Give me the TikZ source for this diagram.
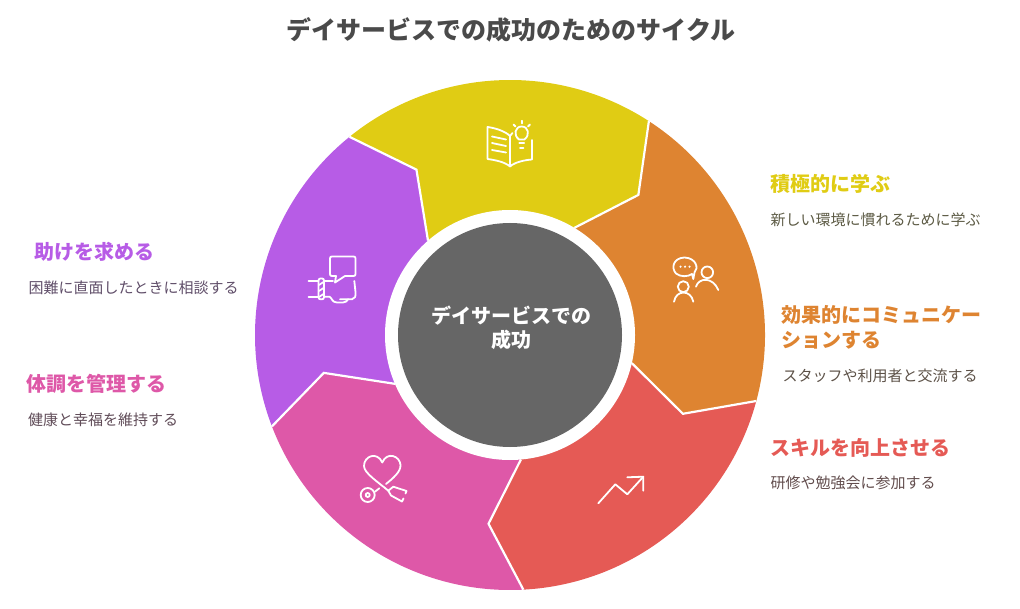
\documentclass[tikz,border=0pt]{standalone}
\usepackage{fontspec}
\setmainfont{Noto Sans CJK JP}
\definecolor{segyellow}{HTML}{E0CC14}
\definecolor{segorange}{HTML}{DE8431}
\definecolor{segred}{HTML}{E55A55}
\definecolor{segpink}{HTML}{DE58A8}
\definecolor{segpurple}{HTML}{B75CE6}
\definecolor{hubgrey}{HTML}{666666}
\definecolor{titlegrey}{HTML}{4A4A4A}
\tikzset{
  seam/.style={color=white,line width=2.2pt,line join=miter},
  icon/.style={color=white,line width=1.8pt,line cap=round,line join=round},
  heading/.style={anchor=west,inner sep=0pt,align=left,font=\fontsize{20}{25}\selectfont\bfseries},
  detail/.style={anchor=west,inner sep=0pt,font=\fontsize{15}{18}\selectfont},
}
\begin{document}
\begin{tikzpicture}[x=1pt,y=1pt]
\useasboundingbox (0,0) rectangle (1020,-609);
\node (title) at (511.3,-30) [color=titlegrey,font=\fontsize{25}{30}\selectfont\bfseries] {デイサービスでの成功のためのサイクル};
\begin{scope}[shift={(510,-335)}]
\fill[color=segyellow] (129:255) arc[start angle=129,end angle=57,radius=255] -- (47.5:190) -- (59:125) -- (131:125) -- (119.5:190) -- cycle;
\fill[color=segorange] (57:255) arc[start angle=57,end angle=-15,radius=255] -- (-24.5:190) -- (-13:125) -- (59:125) -- (47.5:190) -- cycle;
\fill[color=segred] (-15:255) arc[start angle=-15,end angle=-87,radius=255] -- (-96.5:190) -- (-85:125) -- (-13:125) -- (-24.5:190) -- cycle;
\fill[color=segpink] (-87:255) arc[start angle=-87,end angle=-159,radius=255] -- (-168.5:190) -- (-157:125) -- (-85:125) -- (-96.5:190) -- cycle;
\fill[color=segpurple] (-159:255) arc[start angle=-159,end angle=-231,radius=255] -- (119.5:190) -- (131:125) -- (-157:125) -- (-168.5:190) -- cycle;
\draw[seam] (57:255) -- (47.5:190) -- (59:125); % les coutures blanches
\draw[seam] (-15:255) -- (-24.5:190) -- (-13:125);
\draw[seam] (-87:255) -- (-96.5:190) -- (-85:125);
\draw[seam] (-159:255) -- (-168.5:190) -- (-157:125);
\draw[seam] (129:255) -- (119.5:190) -- (131:125);
\fill[color=white] (0,0) circle (125); % l'anneau blanc
\node (hub) at (0,0) [circle,fill=hubgrey,minimum size=224pt,inner sep=0pt] {};
\node (hubtext) at (1,7.5) [inner sep=0pt,text=white,align=center,font=\fontsize{20}{24}\selectfont\bfseries] {デイサービスでの\\成功};
\end{scope}
\begin{scope}[y=-1pt] % les pictogrammes, en pixels depuis le haut
% le livre et l'ampoule
\draw[icon] (510,136) .. controls (505,131) and (495,128) .. (487.5,127) -- (487.5,159) .. controls (495,160) and (505,162) .. (510,166.5) .. controls (515,162) and (525,160) .. (532,159.5) -- (532,140);
\draw[icon] (510,136) -- (510,166.5);
\draw[icon] (510,136) -- (512.5,133);
\draw[icon] (492,136.5) -- (506,139.5);
\draw[icon] (492,143) -- (506,146);
\draw[icon] (492,150) -- (506,152.5);
\draw[icon] (519,139.5) .. controls (513,135) and (515,126.5) .. (521.7,126.5) .. controls (528.4,126.5) and (530.4,135) .. (524.4,139.5) -- cycle;
\draw[icon] (519.3,143) -- (524.1,143);
\draw[icon] (520,148) -- (523.4,148);
\draw[icon] (521.7,120.7) -- (521.7,123.5);
\draw[icon] (513.5,124.5) -- (515.5,126.5);
\draw[icon] (530,124.5) -- (528,126.5);
% les personnes
\draw[icon] (692,274) .. controls (688,277) and (680,277) .. (676,273.5) .. controls (671,268) and (673,258) .. (684.5,257.5) .. controls (696,258) and (699,268) .. (694.5,272.5) -- (693.3,279) -- cycle;
\fill[color=white] (680.5,266.7) circle (1.2);
\fill[color=white] (685,266.7) circle (1.2);
\fill[color=white] (689.5,266.7) circle (1.2);
\draw[icon] (707.3,272.3) circle (5.8);
\draw[icon] (696,286.7) .. controls (699,277) and (713,277) .. (718.3,290);
\draw[icon] (683.3,286.7) circle (5.5);
\draw[icon] (674,301.7) .. controls (676,289.5) and (691,289.5) .. (693.3,301.7);
% la main et la bulle
\draw[icon] (336,276) -- (335,282.5) -- (345,276) -- (353.5,276) .. controls (355,276) and (355.5,275.5) .. (355.5,274) -- (355.5,258.5) .. controls (355.5,257) and (355,256.5) .. (353.5,256.5) -- (332,256.5) .. controls (330.5,256.5) and (330,257) .. (330,258.5) -- (330,274) .. controls (330,275.5) and (330.5,276) .. (332,276) -- cycle;
\draw[icon] (308.5,280.7) -- (318.5,280.7);
\draw[icon] (308.5,296.7) -- (318.5,296.7);
\draw[icon,rounded corners=2pt] (318.5,278.5) rectangle (324,299.3);
\draw[icon] (319,285) -- (323.5,282);
\draw[icon] (319,291) -- (323.5,288);
\draw[icon] (319,297) -- (323.5,294);
\draw[icon] (324,280.7) -- (333,280.7);
\draw[icon] (324,296.7) -- (329.5,296.7) .. controls (332,298) and (332,302.5) .. (337,302.5) -- (343,302.5) .. controls (346,302.5) and (347,301) .. (348,299.3) -- (340,299.3);
\draw[icon] (348,299.3) -- (352,299.3) .. controls (355,299) and (356,296) .. (355.5,292) -- (354.3,281);
% le coeur et le stethoscope
\draw[icon] (386,484) .. controls (392,479) and (401,472) .. (400.5,465) .. controls (400,456) and (387,451) .. (382.3,462.5) .. controls (377,451) and (364,456) .. (364,466) .. controls (364,473) and (378,482) .. (388.3,490.7);
\draw[icon] (367.7,495) circle (7);
\draw[icon] (367.7,495) circle (2);
\draw[icon] (375,491.7) -- (379.3,488.3);
\draw[icon] (388.3,490.7) -- (393.3,486.7) -- (406.5,491) -- (405.5,493.5);
\draw[icon] (388.3,490.7) -- (391,495.5) -- (402,501.5) -- (403.5,498.5);
% la fleche
\draw[icon] (598.3,503.3) -- (615.3,484.3) -- (627.3,494.3) -- (643.3,476.7);
\draw[icon] (627.3,477.3) -- (643.3,476.7) -- (643.3,490.7);
\end{scope}
% les textes
\node (learnhead) at (770.3,-184) [heading,color=segyellow] {積極的に学ぶ};
\node (learntext) at (770.3,-220) [detail,color=segyellow!12!titlegrey] {新しい環境に慣れるために学ぶ};
\node (talkhead) at (781.5,-327.5) [heading,color=segorange] {効果的にコミュニケー\\ションする};
\node (talktext) at (782.5,-376) [detail,color=segorange!12!titlegrey] {スタッフや利用者と交流する};
\node (skillhead) at (770.3,-448) [heading,color=segred] {スキルを向上させる};
\node (skilltext) at (770.3,-483) [detail,color=segred!15!titlegrey] {研修や勉強会に参加する};
\node (helphead) at (34,-252) [heading,color=segpurple] {助けを求める};
\node (helptext) at (28.5,-288) [detail,color=segpurple!20!titlegrey] {困難に直面したときに相談する};
\node (carehead) at (26.5,-384) [heading,color=segpink] {体調を管理する};
\node (caretext) at (28,-420) [detail,color=segpink!15!titlegrey] {健康と幸福を維持する};
\end{tikzpicture}
\end{document}
